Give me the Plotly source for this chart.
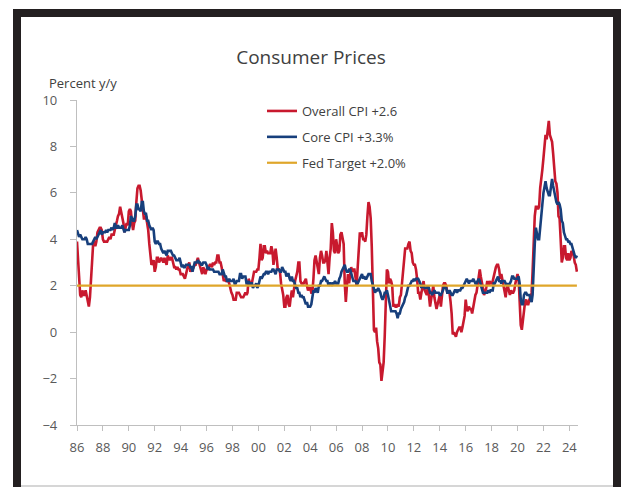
import plotly.graph_objects as go
import pandas as pd

# Monthly year-over-year % change, Jan 1986 .. Aug 2024
start_month = "1986-01-01"

overall_cpi = [
    3.9, 3.1, 2.2, 1.6, 1.5, 1.8, 1.6, 1.6, 1.8, 1.5, 1.3, 1.1,   # 1986
    1.5, 2.1, 3.0, 3.8, 3.9, 3.7, 3.9, 4.3, 4.4, 4.5, 4.5, 4.4,   # 1987
    4.0, 3.9, 3.9, 3.9, 3.9, 4.0, 4.1, 4.0, 4.2, 4.2, 4.2, 4.4,   # 1988
    4.7, 4.8, 5.0, 5.1, 5.4, 5.2, 5.0, 4.7, 4.3, 4.5, 4.7, 4.6,   # 1989
    5.2, 5.3, 5.2, 4.7, 4.4, 4.7, 4.8, 5.6, 6.2, 6.3, 6.3, 6.1,   # 1990
    5.7, 5.3, 4.9, 4.9, 5.0, 4.7, 4.4, 3.8, 3.4, 2.9, 3.0, 3.1,   # 1991
    2.6, 2.8, 3.2, 3.2, 3.0, 3.1, 3.2, 3.1, 3.0, 3.2, 3.0, 2.9,   # 1992
    3.3, 3.2, 3.1, 3.2, 3.2, 3.0, 2.8, 2.8, 2.7, 2.8, 2.7, 2.7,   # 1993
    2.5, 2.5, 2.5, 2.4, 2.3, 2.5, 2.8, 2.9, 3.0, 2.6, 2.7, 2.7,   # 1994
    2.8, 2.9, 2.9, 3.1, 3.2, 3.0, 2.8, 2.6, 2.5, 2.8, 2.6, 2.5,   # 1995
    2.7, 2.7, 2.8, 2.9, 2.9, 2.8, 3.0, 2.9, 3.0, 3.0, 3.3, 3.3,   # 1996
    3.0, 3.0, 2.8, 2.5, 2.2, 2.3, 2.2, 2.2, 2.2, 2.1, 1.8, 1.7,   # 1997
    1.6, 1.4, 1.4, 1.4, 1.7, 1.7, 1.7, 1.6, 1.5, 1.5, 1.5, 1.6,   # 1998
    1.7, 1.6, 1.7, 2.3, 2.1, 2.0, 2.1, 2.3, 2.6, 2.6, 2.6, 2.7,   # 1999
    2.7, 3.2, 3.8, 3.1, 3.2, 3.7, 3.7, 3.4, 3.5, 3.4, 3.4, 3.4,   # 2000
    3.7, 3.5, 2.9, 3.3, 3.6, 3.2, 2.7, 2.7, 2.6, 2.1, 1.9, 1.6,   # 2001
    1.1, 1.1, 1.5, 1.6, 1.2, 1.1, 1.5, 1.8, 1.5, 2.0, 2.2, 2.4,   # 2002
    2.6, 3.0, 3.0, 2.2, 2.1, 2.1, 2.1, 2.2, 2.3, 2.0, 1.8, 1.9,   # 2003
    1.9, 1.7, 1.7, 2.3, 3.1, 3.3, 3.0, 2.7, 2.5, 3.2, 3.5, 3.3,   # 2004
    3.0, 3.0, 3.1, 3.5, 2.8, 2.5, 3.2, 3.6, 4.7, 4.3, 3.5, 3.4,   # 2005
    4.0, 3.6, 3.4, 3.5, 4.2, 4.3, 4.1, 3.8, 2.1, 1.3, 2.0, 2.5,   # 2006
    2.1, 2.4, 2.8, 2.6, 2.7, 2.7, 2.4, 2.0, 2.8, 3.5, 4.3, 4.1,   # 2007
    4.3, 4.0, 4.0, 3.9, 4.2, 5.0, 5.6, 5.4, 4.9, 3.7, 1.1, 0.1,   # 2008
    0.0, 0.2, -0.4, -0.7, -1.3, -1.4, -2.1, -1.5, -1.3, -0.2, 1.8, 2.7,  # 2009
    2.6, 2.1, 2.3, 2.2, 2.0, 1.1, 1.2, 1.1, 1.1, 1.2, 1.1, 1.5,   # 2010
    1.6, 2.1, 2.7, 3.2, 3.6, 3.6, 3.6, 3.8, 3.9, 3.5, 3.4, 3.0,   # 2011
    2.9, 2.9, 2.7, 2.3, 1.7, 1.7, 1.4, 1.7, 2.0, 2.2, 1.8, 1.7,   # 2012
    1.6, 2.0, 1.5, 1.1, 1.4, 1.8, 2.0, 1.5, 1.2, 1.0, 1.2, 1.5,   # 2013
    1.6, 1.1, 1.5, 2.0, 2.1, 2.1, 2.0, 1.7, 1.7, 1.7, 1.3, 0.8,   # 2014
    -0.1, 0.0, -0.1, -0.2, 0.0, 0.1, 0.2, 0.2, 0.0, 0.2, 0.5, 0.7,  # 2015
    1.4, 1.0, 0.9, 1.1, 1.0, 1.0, 0.8, 1.1, 1.5, 1.6, 1.7, 2.1,   # 2016
    2.5, 2.7, 2.4, 2.2, 1.9, 1.6, 1.7, 1.9, 2.2, 2.0, 2.2, 2.1,   # 2017
    2.1, 2.2, 2.4, 2.5, 2.8, 2.9, 2.9, 2.7, 2.3, 2.5, 2.2, 1.9,   # 2018
    1.6, 1.5, 1.9, 2.0, 1.8, 1.6, 1.8, 1.7, 1.7, 1.8, 2.1, 2.3,   # 2019
    2.5, 2.3, 1.5, 0.3, 0.1, 0.6, 1.0, 1.3, 1.4, 1.2, 1.2, 1.4,   # 2020
    1.4, 1.7, 2.6, 4.2, 5.0, 5.4, 5.4, 5.3, 5.4, 6.2, 6.8, 7.0,   # 2021
    7.5, 7.9, 8.5, 8.3, 8.6, 9.1, 8.5, 8.3, 8.2, 7.7, 7.1, 6.5,   # 2022
    6.4, 6.0, 5.0, 4.9, 4.0, 3.0, 3.2, 3.7, 3.7, 3.2, 3.1, 3.4,   # 2023
    3.1, 3.2, 3.5, 3.4, 3.3, 3.0, 2.9, 2.6,                       # 2024
]

core_cpi = [
    4.4, 4.2, 4.1, 4.2, 4.1, 4.0, 4.0, 4.0, 4.1, 4.0, 3.8, 3.8,   # 1986
    3.8, 3.8, 3.8, 3.9, 4.0, 4.1, 4.0, 4.1, 4.2, 4.3, 4.4, 4.2,   # 1987
    4.3, 4.3, 4.3, 4.4, 4.3, 4.4, 4.4, 4.4, 4.5, 4.4, 4.5, 4.7,   # 1988
    4.5, 4.5, 4.6, 4.5, 4.5, 4.5, 4.6, 4.4, 4.3, 4.4, 4.4, 4.4,   # 1989
    4.4, 4.6, 5.0, 4.9, 4.8, 4.8, 5.0, 5.5, 5.5, 5.3, 5.3, 5.2,   # 1990
    5.6, 5.6, 5.2, 5.1, 5.1, 4.8, 4.8, 4.6, 4.5, 4.4, 4.5, 4.4,   # 1991
    3.9, 3.8, 3.9, 3.9, 3.8, 3.8, 3.6, 3.5, 3.4, 3.5, 3.4, 3.3,   # 1992
    3.5, 3.5, 3.5, 3.5, 3.4, 3.3, 3.3, 3.2, 3.1, 3.1, 3.1, 3.2,   # 1993
    2.9, 2.8, 2.9, 2.8, 2.8, 2.9, 2.9, 2.9, 2.9, 2.8, 2.8, 2.6,   # 1994
    2.9, 3.0, 3.0, 3.0, 3.1, 3.0, 3.0, 2.9, 2.9, 3.0, 3.0, 3.0,   # 1995
    2.9, 2.7, 2.8, 2.7, 2.7, 2.7, 2.7, 2.6, 2.6, 2.6, 2.6, 2.6,   # 1996
    2.5, 2.5, 2.5, 2.7, 2.5, 2.4, 2.4, 2.2, 2.2, 2.3, 2.2, 2.2,   # 1997
    2.2, 2.3, 2.1, 2.1, 2.2, 2.2, 2.2, 2.5, 2.5, 2.3, 2.4, 2.4,   # 1998
    2.4, 2.1, 2.1, 2.2, 2.0, 2.1, 2.1, 1.9, 2.0, 2.0, 2.1, 1.9,   # 1999
    2.0, 2.2, 2.4, 2.3, 2.4, 2.5, 2.5, 2.6, 2.6, 2.5, 2.6, 2.6,   # 2000
    2.6, 2.7, 2.7, 2.6, 2.5, 2.7, 2.7, 2.7, 2.6, 2.6, 2.8, 2.7,   # 2001
    2.6, 2.6, 2.4, 2.5, 2.5, 2.3, 2.2, 2.4, 2.2, 2.2, 2.0, 1.9,   # 2002
    1.9, 1.7, 1.7, 1.5, 1.6, 1.5, 1.5, 1.3, 1.2, 1.3, 1.1, 1.1,   # 2003
    1.1, 1.2, 1.6, 1.8, 1.7, 1.9, 1.8, 1.7, 2.0, 2.0, 2.2, 2.2,   # 2004
    2.3, 2.4, 2.3, 2.2, 2.2, 2.0, 2.1, 2.1, 2.0, 2.1, 2.1, 2.2,   # 2005
    2.1, 2.1, 2.1, 2.3, 2.4, 2.6, 2.7, 2.8, 2.9, 2.7, 2.6, 2.6,   # 2006
    2.7, 2.7, 2.5, 2.3, 2.2, 2.2, 2.2, 2.1, 2.1, 2.2, 2.3, 2.4,   # 2007
    2.5, 2.3, 2.4, 2.3, 2.3, 2.4, 2.5, 2.5, 2.5, 2.2, 2.0, 1.8,   # 2008
    1.7, 1.8, 1.8, 1.9, 1.8, 1.7, 1.5, 1.4, 1.5, 1.7, 1.7, 1.8,   # 2009
    1.6, 1.3, 1.1, 0.9, 0.9, 0.9, 0.9, 0.9, 0.8, 0.6, 0.8, 0.8,   # 2010
    1.0, 1.1, 1.2, 1.3, 1.5, 1.6, 1.8, 2.0, 2.0, 2.1, 2.2, 2.2,   # 2011
    2.3, 2.2, 2.3, 2.3, 2.3, 2.2, 2.1, 1.9, 2.0, 2.0, 1.9, 1.9,   # 2012
    1.9, 2.0, 1.9, 1.7, 1.7, 1.6, 1.7, 1.8, 1.7, 1.7, 1.7, 1.7,   # 2013
    1.6, 1.6, 1.7, 1.8, 2.0, 1.9, 1.9, 1.7, 1.7, 1.8, 1.7, 1.6,   # 2014
    1.6, 1.7, 1.8, 1.8, 1.7, 1.8, 1.8, 1.8, 1.9, 1.9, 2.0, 2.1,   # 2015
    2.2, 2.3, 2.2, 2.1, 2.2, 2.2, 2.2, 2.3, 2.2, 2.1, 2.1, 2.2,   # 2016
    2.3, 2.2, 2.0, 1.9, 1.7, 1.7, 1.7, 1.7, 1.7, 1.8, 1.7, 1.8,   # 2017
    1.8, 1.8, 2.1, 2.1, 2.2, 2.3, 2.4, 2.2, 2.2, 2.1, 2.2, 2.2,   # 2018
    2.2, 2.1, 2.0, 2.1, 2.0, 2.1, 2.2, 2.4, 2.4, 2.3, 2.3, 2.3,   # 2019
    2.3, 2.4, 2.1, 1.4, 1.2, 1.2, 1.6, 1.7, 1.7, 1.6, 1.6, 1.6,   # 2020
    1.4, 1.3, 1.6, 3.0, 3.8, 4.5, 4.3, 4.0, 4.0, 4.6, 4.9, 5.5,   # 2021
    6.0, 6.4, 6.5, 6.2, 6.0, 5.9, 5.9, 6.3, 6.6, 6.3, 6.0, 5.7,   # 2022
    5.6, 5.5, 5.6, 5.5, 5.3, 4.8, 4.7, 4.3, 4.1, 4.0, 4.0, 3.9,   # 2023
    3.9, 3.8, 3.8, 3.6, 3.4, 3.3, 3.2, 3.3,                       # 2024
]

fed_target = 2.0

series_names = ["Overall CPI +2.6", "Core CPI +3.3%", "Fed Target +2.0%"]
tick_labels_fmt = "%y"

dates = pd.date_range(start_month, periods=len(overall_cpi), freq="MS")
target_line = [fed_target] * len(dates)

RED = "#C8192E"
BLUE = "#173F7C"
GOLD = "#DFA62A"
FONT = "Open Sans"

W, H = 626, 487
L, R, T, B = 77, 48, 100, 62
pw, ph = W - L - R, H - T - B


def px_x(p):
    return (p - L) / pw


def px_y(p):
    return (H - B - p) / ph


fig = go.Figure()
fig.add_trace(go.Scatter(x=dates, y=overall_cpi, mode="lines", name=series_names[0],
                         legendgroup="a", line=dict(color=RED, width=2.6)))
fig.add_trace(go.Scatter(x=dates, y=core_cpi, mode="lines", name=series_names[1],
                         legendgroup="b", line=dict(color=BLUE, width=2.6)))
fig.add_trace(go.Scatter(x=dates, y=target_line, mode="lines", name=series_names[2],
                         legendgroup="c", line=dict(color=GOLD, width=2.2)))

axis_col = "#BFBFBF"
fig.update_layout(
    width=W, height=H,
    margin=dict(l=L, r=R, t=T, b=B),
    paper_bgcolor="white", plot_bgcolor="white",
    font=dict(family=FONT, color="#595959", size=13),
    title=dict(text="Consumer Prices", x=311 / W, xanchor="center",
               y=1 - 57 / H, yanchor="middle",
               font=dict(family=FONT, size=19, color="#404040")),
    showlegend=True,
    legend=dict(x=px_x(262), xanchor="left", y=px_y(96), yanchor="top",
                bgcolor="rgba(0,0,0,0)", borderwidth=0,
                font=dict(family=FONT, size=13, color="#404040"),
                tracegroupgap=6, traceorder="grouped"),
    xaxis=dict(type="date", range=["1986-01-01", "2024-09-01"],
               tick0="1986-01-01", dtick="M24", tickformat=tick_labels_fmt,
               showgrid=False, zeroline=False, showline=True, linecolor=axis_col,
               linewidth=1.3, ticks="outside", ticklen=5, tickcolor=axis_col,
               ticklabelstandoff=5,
               tickfont=dict(size=13, color="#595959")),
    yaxis=dict(range=[-4, 10], dtick=2, showgrid=False, zeroline=False,
               showline=True, linecolor=axis_col, linewidth=1.3,
               ticks="outside", ticklen=6, tickcolor=axis_col,
               ticklabelstandoff=10,
               tickfont=dict(size=13, color="#595959")),
    annotations=[dict(text="Percent y/y", xref="paper", yref="paper",
                      x=px_x(47), xanchor="left", y=px_y(83), yanchor="middle",
                      showarrow=False, font=dict(family=FONT, size=13, color="#404040"))],
    shapes=[
        dict(type="rect", xref="paper", yref="paper",
             x0=px_x(17), x1=px_x(617), y0=px_y(13), y1=px_y(520),
             line=dict(color="#231F20", width=8), fillcolor="rgba(0,0,0,0)", layer="below"),
        dict(type="line", xref="paper", yref="paper",
             x0=px_x(21), x1=px_x(613), y0=px_y(486), y1=px_y(486),
             line=dict(color="#C8C8C8", width=1.5)),
    ],
)

fig.write_html("out.html", config={"displayModeBar": False},
               post_script="document.body.style.margin='0';")
